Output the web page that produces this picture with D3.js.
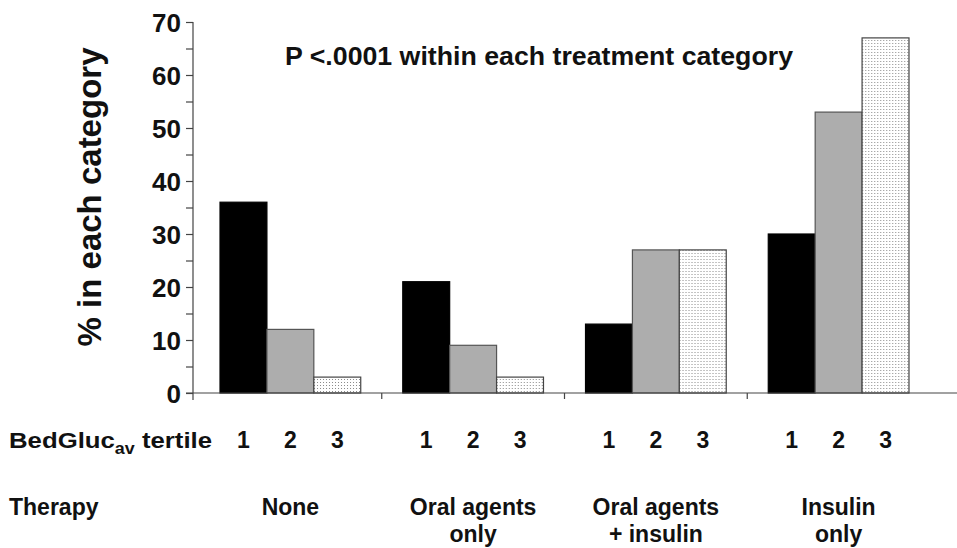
<!DOCTYPE html>
<html><head><meta charset="utf-8">
<script src="https://cdn.jsdelivr.net/npm/d3@7"></script>
<style>
body{margin:0;background:#fff}
text{font-family:"Liberation Sans",Arial,sans-serif;fill:#111}
</style>
</head><body><svg id="c" width="957" height="548"></svg>
<script>
// ---- data ----
const categories = ["None", "Oral agents only", "Oral agents + insulin", "Insulin only"];
const categoryLines = [["None"], ["Oral agents", "only"], ["Oral agents", "+ insulin"], ["Insulin", "only"]];
const tertiles = ["1", "2", "3"];
const tertile1 = [36, 21, 13, 30];
const tertile2 = [12, 9, 27, 53];
const tertile3 = [3, 3, 27, 67];
const yTickValues = [0, 5, 10, 15, 20, 25, 30, 35, 40, 45, 50, 55, 60, 65, 70];
const yLabel = "% in each category";
const note = "P <.0001 within each treatment category";

const series = [tertile1, tertile2, tertile3];
const rows = categories.map((c, i) => ({cat: c, vals: tertiles.map((t, j) => ({t, v: series[j][i]}))}));

const svg = d3.select("#c");
const defs = svg.append("defs");
const pat = defs.append("pattern").attr("id", "dots").attr("patternUnits", "userSpaceOnUse")
  .attr("width", 3).attr("height", 3);
pat.append("rect").attr("width", 3).attr("height", 3).attr("fill", "#fff");
pat.append("rect").attr("x", 1).attr("y", 1).attr("width", 1).attr("height", 1).attr("fill", "#8a8a8a");

const fills = {"1": "#000", "2": "#adadad", "3": "url(#dots)"};
const strokes = {"1": "#000", "2": "#555", "3": "#444"};

const axisX = 193, baseY = 393;
const y = d3.scaleLinear().domain([0, 70]).range([baseY, 22]);
const x0 = d3.scaleBand().domain(categories).range([199, 930]).paddingInner(0.23).paddingOuter(0.115);
const x1 = d3.scaleBand().domain(tertiles).range([0, x0.bandwidth()]);

// bars
const g = svg.append("g");
g.selectAll("g.grp").data(rows).join("g").attr("class", "grp")
  .attr("transform", d => `translate(${x0(d.cat)},0)`)
  .selectAll("rect").data(d => d.vals).join("rect")
  .attr("x", d => x1(d.t)).attr("width", x1.bandwidth())
  .attr("y", d => y(d.v)).attr("height", d => y(0) - y(d.v))
  .attr("fill", d => fills[d.t]).attr("stroke", d => strokes[d.t]).attr("stroke-width", 1.2);

// y axis
const ya = svg.append("g").attr("transform", `translate(${axisX},0)`)
  .call(d3.axisLeft(y).tickValues(yTickValues).tickSize(7).tickSizeOuter(0)
    .tickFormat(d => d % 10 === 0 ? d : ""));
ya.select(".domain").remove();
ya.selectAll(".tick line").attr("stroke", "#444").attr("stroke-width", 1.2);
ya.selectAll(".tick text").attr("x", -12).attr("dy", "0.36em")
  .style("font-size", "26px").style("font-weight", "bold").attr("fill", "#111");
svg.append("line").attr("x1", axisX).attr("x2", axisX).attr("y1", y(70)).attr("y2", baseY + 7)
  .attr("stroke", "#444").attr("stroke-width", 1.2);

// x axis
svg.append("line").attr("x1", axisX - 7).attr("x2", 957).attr("y1", baseY).attr("y2", baseY)
  .attr("stroke", "#444").attr("stroke-width", 1.2);
const step = x0.step();
svg.selectAll("line.ct").data(categories.slice(1)).join("line").attr("class", "ct")
  .attr("x1", d => x0(d) - (step - x0.bandwidth()) / 2).attr("x2", d => x0(d) - (step - x0.bandwidth()) / 2)
  .attr("y1", baseY).attr("y2", baseY + 6).attr("stroke", "#444").attr("stroke-width", 1.2);

// y label
svg.append("text").attr("transform", "translate(101,197) rotate(-90)")
  .attr("text-anchor", "middle").style("font-size", "33px").style("font-weight", "bold")
  .text(yLabel);

// note
svg.append("text").attr("x", 285).attr("y", 65).style("font-size", "25px").style("font-weight", "bold")
  .attr("textLength", 508).attr("lengthAdjust", "spacingAndGlyphs")
  .text(note);

// tertile row
const tr = svg.append("text").attr("transform", "translate(9,448) scale(1.12,1)")
  .style("font-size", "23px").style("font-weight", "bold");
tr.append("tspan").text("BedGluc");
tr.append("tspan").attr("dy", 6).style("font-size", "16px").text("av");
tr.append("tspan").attr("dy", -6).text(" tertile");

rows.forEach(r => {
  svg.selectAll(null).data(r.vals).join("text")
    .attr("x", d => x0(r.cat) + x1(d.t) + x1.bandwidth() / 2).attr("y", 448)
    .attr("text-anchor", "middle").style("font-size", "23px").style("font-weight", "bold")
    .text(d => d.t);
});

// therapy row
svg.append("text").attr("x", 9).attr("y", 515).style("font-size", "23px").style("font-weight", "bold").text("Therapy");
categories.forEach((c, i) => {
  const t = svg.append("text").attr("x", x0(c) + x0.bandwidth() / 2).attr("y", 515)
    .attr("text-anchor", "middle").style("font-size", "23px").style("font-weight", "bold");
  categoryLines[i].forEach((ln, k) => {
    t.append("tspan").attr("x", x0(c) + x0.bandwidth() / 2).attr("dy", k === 0 ? 0 : 27).text(ln);
  });
});
</script>
</body></html>
